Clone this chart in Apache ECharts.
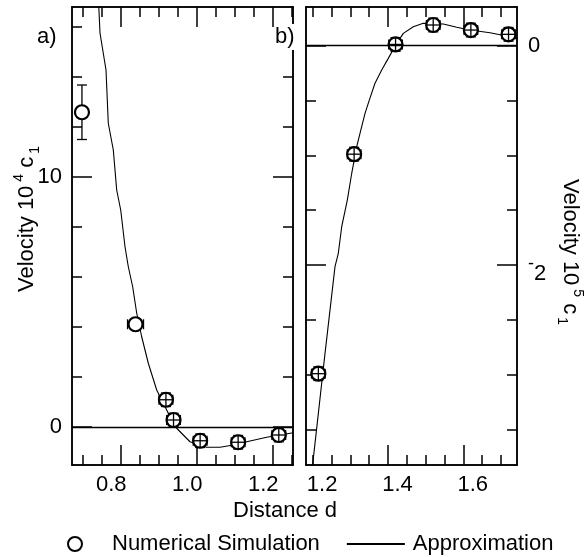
<!DOCTYPE html>
<html>
<head>
<meta charset="utf-8">
<script src="https://cdn.jsdelivr.net/npm/echarts@6/dist/echarts.min.js"></script>
<style>
  html, body { margin: 0; padding: 0; background: #fff; }
  #chart { width: 584px; height: 557px; }
</style>
</head>
<body>
<div id="chart"></div>
<script>
// panel a) - numerical simulation points
var aSimX = [0.723, 0.864, 0.944, 0.964, 1.034, 1.134, 1.241];
var aSimY = [12.58, 4.10, 1.08, 0.27, -0.56, -0.62, -0.33];
var aErrX = [0.000, 0.021, 0.018, 0.018, 0.018, 0.018, 0.018];
var aErrY = [1.09, 0.00, 0.27, 0.27, 0.27, 0.27, 0.27];
// panel a) - approximation curve
var aFitX = [0.7652, 0.7705, 0.7863, 0.7923, 0.8055, 0.8144, 0.825, 0.8363, 0.845, 0.8565, 0.8671, 0.8802,
             0.8976, 0.9197, 0.9371, 0.9547, 0.9723, 1.0073, 1.0513, 1.0863, 1.1213, 1.1566, 1.2092, 1.279];
var aFitY = [17.5, 15.75, 14.27, 12.14, 11.07, 9.47, 8.67, 7.2, 6.4, 5.6, 4.54, 3.6,
             2.54, 1.47, 0.94, 0.4, -0.06, -0.6, -0.82, -0.82, -0.73, -0.6, -0.42, -0.24];

// panel b)
var bSimX = [1.190, 1.285, 1.395, 1.495, 1.595, 1.695];
var bSimY = [-2.99, -0.99, 0.01, 0.187, 0.141, 0.102];
var bErrX = [0.018, 0.018, 0.018, 0.018, 0.018, 0.018];
var bErrY = [0.062, 0.062, 0.062, 0.062, 0.062, 0.062];
var bFitX = [1.1718, 1.1811, 1.2077, 1.2342, 1.243, 1.252, 1.2669, 1.2786, 1.2919, 1.3006, 1.3139, 1.3253,
             1.3404, 1.3582, 1.3757, 1.3954, 1.4156, 1.4421, 1.4687, 1.5218, 1.5574, 1.5927, 1.6458, 1.7183];
var bFitY = [-3.91, -3.625, -2.805, -2.015, -1.893, -1.651, -1.408, -1.164, -0.922, -0.8, -0.618, -0.497,
             -0.344, -0.223, -0.117, 0.005, 0.111, 0.171, 0.202, 0.196, 0.166, 0.141, 0.117, 0.066];

// tick labels and tick marks
var aXLabels = [0.8, 1.0, 1.2];
var aXMajor = [0.825, 1.025, 1.225];
var aXMinor = [0.725, 0.775, 0.875, 0.925, 0.975, 1.075, 1.125, 1.175, 1.275];
var bXLabels = [1.2, 1.4, 1.6];
var bXMajor = [1.375, 1.575];
var bXMinor = [1.175, 1.225, 1.275, 1.325, 1.425, 1.475, 1.525, 1.625, 1.675];
var aYLabels = [0, 10];
var aYMinor = [2, 4, 6, 8, 12, 14, 16];
var bYLabels = [-2, 0];
var bYMinor = [-3.5, -3, -2.5, -1.5, -1, -0.5];

var FONT = 'Liberation Sans, Arial, Helvetica, sans-serif';
var AX = { a: [0.6968, 1.2784], b: [1.1572, 1.7175] };
var AY = { a: [-1.53, 16.79], b: [-3.822, 0.351] };
var DOT = 14;   // circle diameter in px

function zip(xs, ys) {
  return xs.map(function (x, i) { return [x, ys[i]]; });
}
function zip4(xs, ys, ex, ey) {
  return xs.map(function (x, i) { return [x, ys[i], ex[i], ey[i]]; });
}

// frame line + ticks at given values, no labels
function tickAxis(grid, pos, ext, ticks, len) {
  return {
    type: 'value', gridIndex: grid, position: pos, min: ext[0], max: ext[1],
    axisLine: { show: true, onZero: false, lineStyle: { color: '#000', width: 1.5 } },
    axisTick: { show: true, inside: true, length: len, customValues: ticks,
                lineStyle: { color: '#000', width: 1.5 } },
    axisLabel: { show: false },
    splitLine: { show: false }
  };
}

// data axis: labels + long ticks
function dataAxis(grid, pos, ext, labels, ticks, fmt, margin) {
  return {
    type: 'value', gridIndex: grid, position: pos, min: ext[0], max: ext[1],
    axisLine: { show: true, onZero: false, lineStyle: { color: '#000', width: 1.5 } },
    axisTick: { show: true, inside: true, length: 20, customValues: ticks,
                lineStyle: { color: '#000', width: 1.5 } },
    splitLine: { show: false },
    axisLabel: { show: true, customValues: labels, color: '#000', fontSize: 22, fontFamily: FONT,
                 margin: margin, formatter: fmt,
                 rich: {
                   m: { fontSize: 18, fontFamily: FONT, color: '#000', lineHeight: 16,
                        verticalAlign: 'bottom', padding: [0, 0, 12, 0] },
                   d: { fontSize: 22, fontFamily: FONT, color: '#000', lineHeight: 22, verticalAlign: 'bottom' },
                   h: { fontSize: 22, lineHeight: 40 }
                 } }
  };
}
function fixed1(v) { return v.toFixed(1); }
function plain(v) { return String(v); }
// the right-hand "-2" has a small raised minus and sits a bit below its tick
function raisedMinus(v) {
  return v < 0 ? '{h|}{m|-}{d|' + Math.abs(v) + '}' : String(v);
}

// error bars: a full cross when it fits in the circle, otherwise only the parts outside it
function errorBars(params, api) {
  var x = api.value(0), y = api.value(1), ex = api.value(2), ey = api.value(3);
  var c = api.coord([x, y]);
  var rad = DOT / 2, cap = 5;
  var st = { stroke: '#000', lineWidth: 1.3 };
  var kids = [];
  function seg(x1, y1, x2, y2) {
    kids.push({ type: 'line', shape: { x1: x1, y1: y1, x2: x2, y2: y2 }, style: st });
  }
  if (ex > 0) {
    var l = api.coord([x - ex, y])[0], r = api.coord([x + ex, y])[0];
    var hx = (r - l) / 2;
    if (hx > rad + 0.5) { seg(l, c[1], c[0] - rad, c[1]); seg(c[0] + rad, c[1], r, c[1]); }
    else seg(l, c[1], r, c[1]);
    seg(l, c[1] - cap, l, c[1] + cap);
    seg(r, c[1] - cap, r, c[1] + cap);
  }
  if (ey > 0) {
    var t = api.coord([x, y + ey])[1], b = api.coord([x, y - ey])[1];
    var hy = (b - t) / 2;
    if (hy > rad + 0.5) { seg(c[0], t, c[0], c[1] - rad); seg(c[0], c[1] + rad, c[0], b); }
    else seg(c[0], t, c[0], b);
    seg(c[0] - cap, t, c[0] + cap, t);
    seg(c[0] - cap, b, c[0] + cap, b);
  }
  return { type: 'group', children: kids };
}

function simSeries(xi, yi, data) {
  return {
    name: 'Numerical Simulation', type: 'scatter', xAxisIndex: xi, yAxisIndex: yi,
    symbol: 'circle', symbolSize: DOT, z: 3,
    itemStyle: { color: '#fff', borderColor: '#000', borderWidth: 2.2, opacity: 1 },
    data: data
  };
}
function errSeries(xi, yi, data) {
  return { type: 'custom', xAxisIndex: xi, yAxisIndex: yi, z: 4, renderItem: errorBars, data: data, silent: true };
}
function fitSeries(xi, yi, data) {
  return {
    name: 'Approximation', type: 'line', xAxisIndex: xi, yAxisIndex: yi, z: 2,
    symbol: 'none', smooth: false, clip: true,
    lineStyle: { color: '#000', width: 1.1 },
    itemStyle: { color: '#000' },
    data: data,
    markLine: {
      silent: true, symbol: ['none', 'none'], label: { show: false },
      lineStyle: { color: '#000', type: 'solid', width: 1.3 },
      data: [{ yAxis: 0 }]
    }
  };
}

var titleRich = {
  t: { fontSize: 22, fontFamily: FONT, lineHeight: 30, fill: '#000' },
  sup: { fontSize: 14, fontFamily: FONT, lineHeight: 14, verticalAlign: 'top', padding: [0, 0, 0, 4] },
  sub: { fontSize: 14, fontFamily: FONT, lineHeight: 14, verticalAlign: 'bottom', padding: [0, 0, 0, 3] }
};

var chart = echarts.init(document.getElementById('chart'), null, { renderer: 'canvas' });
var option = {
  backgroundColor: '#fff',
  animation: false,
  grid: [
    { left: 72, top: 7, width: 221, height: 458 },
    { left: 306, top: 7, width: 211, height: 458 }
  ],
  xAxis: [
    dataAxis(0, 'bottom', AX.a, aXLabels, aXMajor, fixed1, 9),
    tickAxis(0, 'bottom', AX.a, aXMinor, 10),
    tickAxis(0, 'top', AX.a, aXMajor, 20),
    tickAxis(0, 'top', AX.a, aXMinor, 10),
    dataAxis(1, 'bottom', AX.b, bXLabels, bXMajor, fixed1, 9),
    tickAxis(1, 'bottom', AX.b, bXMinor, 10),
    tickAxis(1, 'top', AX.b, bXMajor, 20),
    tickAxis(1, 'top', AX.b, bXMinor, 10)
  ],
  yAxis: [
    dataAxis(0, 'left', AY.a, aYLabels, aYLabels, plain, 10),
    tickAxis(0, 'left', AY.a, aYMinor, 10),
    tickAxis(0, 'right', AY.a, aYLabels, 20),
    tickAxis(0, 'right', AY.a, aYMinor, 10),
    dataAxis(1, 'right', AY.b, bYLabels, bYLabels, raisedMinus, 11),
    tickAxis(1, 'right', AY.b, bYMinor, 10),
    tickAxis(1, 'left', AY.b, bYLabels, 20),
    tickAxis(1, 'left', AY.b, bYMinor, 10)
  ],
  legend: {
    data: ['Numerical Simulation', { name: 'Approximation', itemStyle: { opacity: 0 } }],
    left: 62, top: 528, itemWidth: 58, itemHeight: 14, itemGap: 26,
    textStyle: { color: '#000', fontSize: 22, fontFamily: FONT, padding: [0, 0, 0, 3] },
    selectedMode: false
  },
  series: [
    fitSeries(0, 0, zip(aFitX, aFitY)),
    simSeries(0, 0, zip(aSimX, aSimY)),
    errSeries(0, 0, zip4(aSimX, aSimY, aErrX, aErrY)),
    fitSeries(4, 4, zip(bFitX, bFitY)),
    simSeries(4, 4, zip(bSimX, bSimY)),
    errSeries(4, 4, zip4(bSimX, bSimY, bErrX, bErrY))
  ],
  graphic: [
    { type: 'text', x: 37, y: 37, z: 10,
      style: { text: 'a)', fontSize: 22, fontFamily: FONT, fill: '#000', align: 'left', verticalAlign: 'middle' } },
    { type: 'text', x: 275, y: 37, z: 10,
      style: { text: 'b)', fontSize: 22, fontFamily: FONT, fill: '#000', align: 'left', verticalAlign: 'middle',
               backgroundColor: '#fff', padding: [2, 0, 2, 0] } },
    { type: 'text', x: 285, y: 511, z: 10,
      style: { text: 'Distance d', fontSize: 22, fontFamily: FONT, fill: '#000', align: 'center', verticalAlign: 'middle' } },
    { type: 'text', x: 27, y: 219, rotation: Math.PI / 2, z: 10,
      style: { text: '{t|Velocity 10}{sup|4}{t| c}{sub|1}', rich: titleRich, fill: '#000',
               fontSize: 22, fontFamily: FONT, align: 'center', verticalAlign: 'middle' } },
    { type: 'text', x: 570, y: 252, rotation: -Math.PI / 2, z: 10,
      style: { text: '{t|Velocity 10}{sup|5}{t| c}{sub|1}', rich: titleRich, fill: '#000',
               fontSize: 22, fontFamily: FONT, align: 'center', verticalAlign: 'middle' } }
  ]
};
chart.setOption(option);
</script>
</body>
</html>
